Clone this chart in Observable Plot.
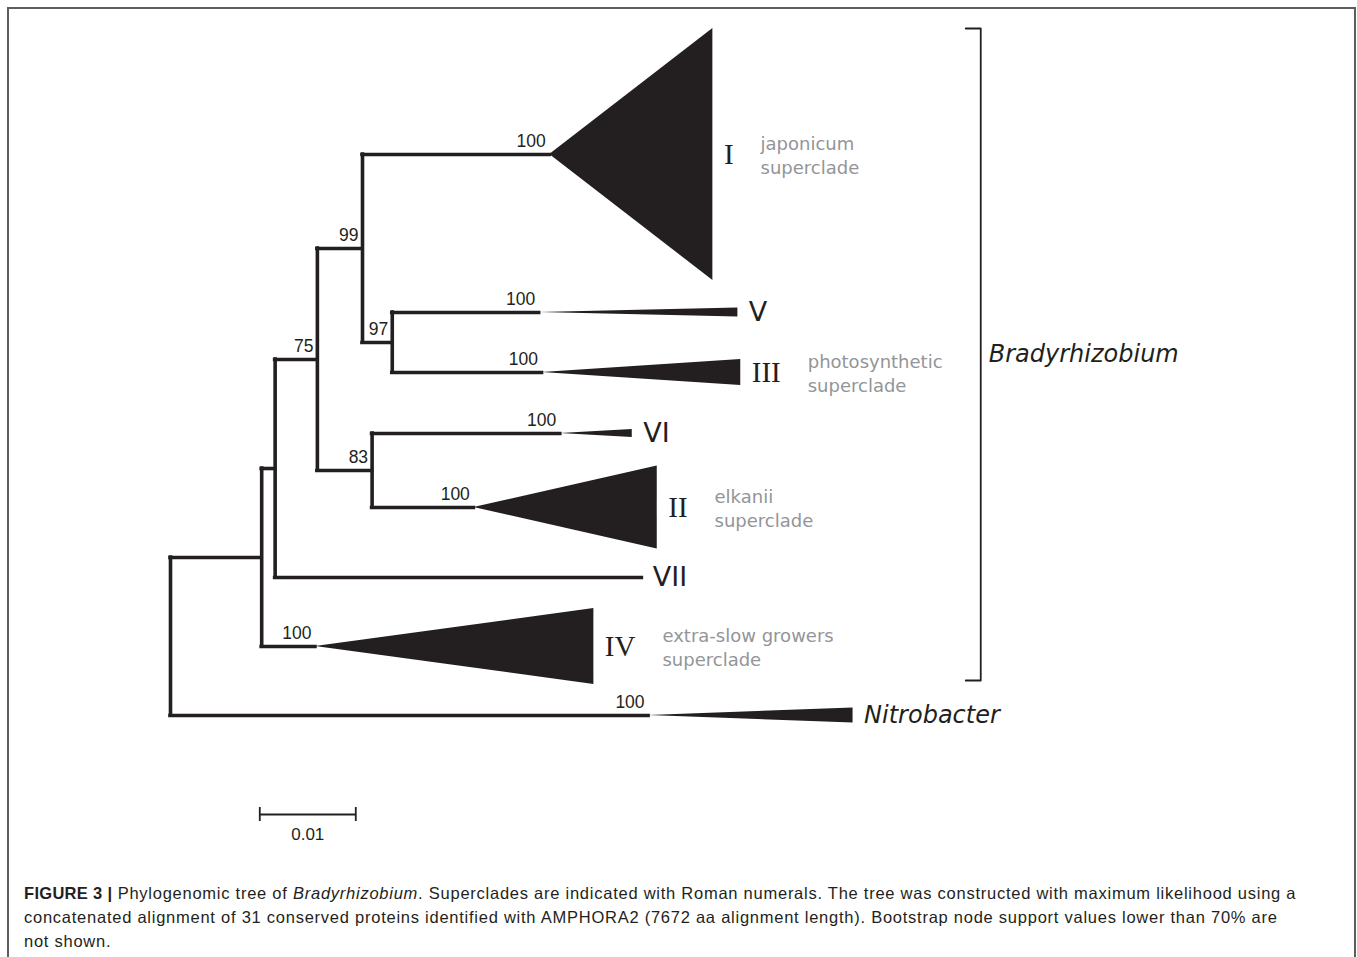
<!DOCTYPE html>
<html><head><meta charset="utf-8">
<script src="https://cdn.jsdelivr.net/npm/d3@7"></script>
<script src="https://cdn.jsdelivr.net/npm/@observablehq/plot@0.6"></script>
<style>
body{margin:0;background:#fff;width:1357px;height:957px;overflow:hidden;position:relative;font-family:"Liberation Sans",Arial,sans-serif;}
#chart{position:absolute;left:0;top:0;}
#frame{position:absolute;left:7px;top:7px;width:1349px;height:1000px;border:2px solid #5d5d5d;box-sizing:border-box;pointer-events:none;}
#caption{position:absolute;left:24px;top:881px;font-size:16.5px;letter-spacing:0.75px;line-height:24px;color:#231f20;white-space:nowrap;}
#caption b{font-weight:bold;letter-spacing:0.3px;}
</style></head><body>
<div id="chart"></div>
<div id="frame"></div>
<div id="caption"><b>FIGURE 3 |</b> Phylogenomic tree of <i>Bradyrhizobium</i>. Superclades are indicated with Roman numerals. The tree was constructed with maximum likelihood using a<br>concatenated alignment of 31 conserved proteins identified with AMPHORA2 (7672 aa alignment length). Bootstrap node support values lower than 70% are<br>not shown.</div>
<script>
// ---- data (branch depths in substitutions per site) ----
const cladeNames   = ["I", "V", "III", "VI", "II", "VII", "IV", "Nitrobacter"];
const cladeParent  = ["D", "F", "F", "E", "E", "B", "A", "R"];
const cladeStem    = [0.0395, 0.0384, 0.0387, 0.0406, 0.0316, 0.0491, 0.0151, 0.0498];
const cladeTip     = [0.0565, 0.0591, 0.0594, 0.0481, 0.0507, 0.0491, 0.0441, 0.0711];
const cladeRow     = [154, 312, 372, 433, 507, 577, 646, 715];
const cladeSpread  = [126, 4.5, 13, 4, 41.5, 0, 38, 7.5];
const cladeSupport = ["100", "100", "100", "100", "100", "", "100", "100"];
const superclades  = ["japonicum\nsuperclade", "", "photosynthetic\nsuperclade", "", "elkanii\nsuperclade", "", "extra-slow growers\nsuperclade", ""];

const nodeId      = ["R", "A", "B", "C", "D", "F", "E"];
const nodeParent  = [null, "R", "A", "B", "C", "D", "C"];
const nodeDepth   = [0, 0.0095, 0.0109, 0.0153, 0.0200, 0.0231, 0.0210];
const nodeSupport = ["", "", "", "75", "99", "97", "83"];

const genusName = "Bradyrhizobium";
const bracketDepth = 0.0844;
const scaleBarStart = 0.0093;
const scaleBarLength = 0.01;
const scaleBarLabel = "0.01";
const scaleBarRow = 814;

// ---- build tree geometry ----
const PX = 9600, ORIGIN = 170;
const clades = cladeNames.map((name, i) => ({name, parent: cladeParent[i], stem: cladeStem[i], tip: cladeTip[i], y: cladeRow[i], spread: cladeSpread[i], support: cladeSupport[i], sup: superclades[i]}));
const nodes = nodeId.map((id, i) => ({id, parent: nodeParent[i], depth: nodeDepth[i], support: nodeSupport[i]}));
const byId = Object.fromEntries(nodes.map(n => [n.id, n]));
function childrenOf(id) {
  return [...nodes.filter(n => n.parent === id).map(n => ({kind: "node", ref: n})),
          ...clades.filter(c => c.parent === id).map(c => ({kind: "clade", ref: c}))];
}
function yOf(child) {
  return child.kind === "clade" ? child.ref.y : nodeY(child.ref.id);
}
function nodeY(id) {
  return d3.mean(childrenOf(id).map(yOf));
}
nodes.forEach(n => { n.y = nodeY(n.id); n.ext = d3.extent(childrenOf(n.id).map(yOf)); });

const hBranches = [
  ...nodes.filter(n => n.parent).map(n => ({y: n.y, x1: byId[n.parent].depth, x2: n.depth})),
  ...clades.map(c => ({y: c.y, x1: byId[c.parent].depth, x2: c.stem}))
];
const vBranches = nodes.map(n => ({x: n.depth, y1: n.ext[0], y2: n.ext[1]}));
const triangles = clades.filter(c => c.spread > 0).flatMap(c => [
  {clade: c.name, x: c.stem, y1: c.y, y2: c.y},
  {clade: c.name, x: c.tip, y1: c.y - c.spread, y2: c.y + c.spread}
]);
const supports = [
  ...clades.filter(c => c.support).map(c => ({x: c.stem, y: c.y, t: c.support})),
  ...nodes.filter(n => n.support).map(n => ({x: n.depth, y: n.y, t: n.support}))
];
const ingroup = clades.filter(c => c.parent !== "R");
const bracketTop = d3.min(ingroup, c => c.y - c.spread);
const bracketBottom = d3.max(ingroup, c => c.y + c.spread) - 4;
const tickLen = 15 / PX;
const bracket = [
  {x: bracketDepth - tickLen, y: bracketTop}, {x: bracketDepth, y: bracketTop},
  {x: bracketDepth, y: bracketBottom}, {x: bracketDepth - tickLen, y: bracketBottom}
];

const INK = "#231f20";
const GRAY = "#939598";
const romanSerif = ["I", "II", "III", "IV"];
const romanSans = ["V", "VI", "VII"];

const ctx = document.createElement("canvas").getContext("2d");
function textW(txt, font) { ctx.font = font; return ctx.measureText(txt).width; }

const superMarks = clades.filter(c => c.sup).map(c => {
  const w = textW(c.name, "29px 'Liberation Serif'");
  return Plot.text([c], {x: "tip", y: "y", text: "sup", dx: 11 + w + 27, textAnchor: "start", lineAnchor: "middle",
    lineHeight: 1.33, fontSize: 18, fontFamily: "DejaVu Sans", fill: GRAY});
});

const chart = Plot.plot({
  width: 1357, height: 870, margin: 0,
  x: {domain: [-ORIGIN / PX, (1357 - ORIGIN) / PX], axis: null},
  y: {domain: [0, 870], range: [0, 870], axis: null},
  style: {fontFamily: "'Liberation Sans', Arial, sans-serif", background: "transparent"},
  marks: [
    Plot.areaY(triangles, {x: "x", y1: "y1", y2: "y2", z: "clade", fill: INK, curve: "linear"}),
    Plot.ruleY(hBranches, {y: "y", x1: "x1", x2: "x2", stroke: INK, strokeWidth: 3.6, strokeLinecap: "square"}),
    Plot.ruleX(vBranches, {x: "x", y1: "y1", y2: "y2", stroke: INK, strokeWidth: 3.6, strokeLinecap: "square"}),
    Plot.text(supports, {x: "x", y: "y", text: "t", dx: -4, dy: -8, textAnchor: "end", lineAnchor: "bottom", fontSize: 17.5, fill: INK, fontFamily: "Liberation Sans"}),
    Plot.text(clades.filter(c => romanSerif.includes(c.name)), {x: "tip", y: "y", text: "name", dx: 11, textAnchor: "start", lineAnchor: "middle", fontSize: 29, fontFamily: "Liberation Serif", fill: INK}),
    Plot.text(clades.filter(c => romanSans.includes(c.name)), {x: "tip", y: "y", text: "name", dx: 11, textAnchor: "start", lineAnchor: "middle", fontSize: 27, fontFamily: "DejaVu Sans", fill: INK}),
    Plot.text(clades.filter(c => !romanSerif.includes(c.name) && !romanSans.includes(c.name)), {x: "tip", y: "y", text: "name", dx: 11, textAnchor: "start", lineAnchor: "middle", fontSize: 24, fontStyle: "italic", fontFamily: "DejaVu Sans", fill: INK}),
    ...superMarks,
    Plot.line(bracket, {x: "x", y: "y", stroke: INK, strokeWidth: 1.8}),
    Plot.text([{x: bracketDepth, y: (bracketTop + bracketBottom) / 2, t: genusName}], {x: "x", y: "y", text: "t", dx: 8, textAnchor: "start", lineAnchor: "middle", fontSize: 24, fontStyle: "italic", fontFamily: "DejaVu Sans", fill: INK}),
    Plot.ruleY([{y: scaleBarRow, x1: scaleBarStart, x2: scaleBarStart + scaleBarLength}], {y: "y", x1: "x1", x2: "x2", stroke: INK, strokeWidth: 1.8}),
    Plot.ruleX([scaleBarStart, scaleBarStart + scaleBarLength], {x: d => d, y1: scaleBarRow - 7, y2: scaleBarRow + 7, stroke: INK, strokeWidth: 1.8}),
    Plot.text([{x: scaleBarStart + scaleBarLength / 2, y: scaleBarRow, t: scaleBarLabel}], {x: "x", y: "y", text: "t", dy: 20, lineAnchor: "middle", fontSize: 17, fill: INK, fontFamily: "Liberation Sans"})
  ]
});
document.getElementById("chart").appendChild(chart);
</script>
</body></html>
